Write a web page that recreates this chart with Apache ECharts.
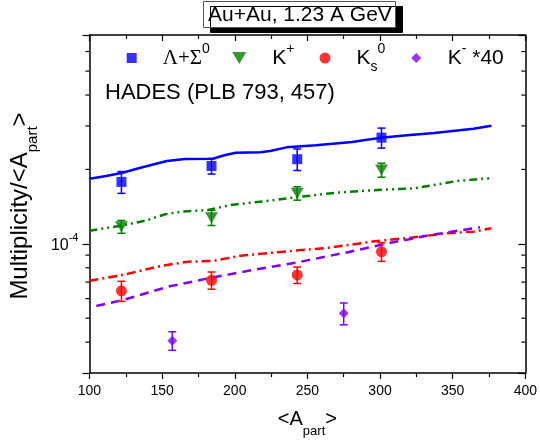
<!DOCTYPE html>
<html><head><meta charset="utf-8">
<script src="https://cdn.jsdelivr.net/npm/echarts@6/dist/echarts.min.js"></script>
<style>html,body{margin:0;padding:0;background:#fff}#c{width:540px;height:447px}</style>
</head><body><div id="c"></div>
<script>
// ---- axes ----
const xMin = 100, xMax = 400, xStep = 50;
const yMin = 3e-5, yMax = 7e-4;
const yMinorTicks = [4e-5, 5e-5, 6e-5, 7e-5, 8e-5, 9e-5, 2e-4, 3e-4, 4e-4, 5e-4, 6e-4];

// ---- measured data (HADES) ----
const dataX = [122, 184, 243, 301];
const lamY = [1.78e-4, 2.065e-4, 2.20e-4, 2.69e-4];
const lamErr = [0.18e-4, 0.15e-4, 0.22e-4, 0.25e-4];
const kpY = [1.173e-4, 1.276e-4, 1.602e-4, 1.99e-4];
const kpErr = [0.07e-4, 0.09e-4, 0.10e-4, 0.13e-4];
const k0sY = [6.45e-5, 7.12e-5, 7.48e-5, 9.29e-5];
const k0sErr = [0.6e-5, 0.57e-5, 0.57e-5, 0.8e-5];
const kmX = [157, 275];
const kmY = [4.055e-5, 5.23e-5];
const kmErr = [0.35e-5, 0.53e-5];

// ---- model curves ----
const lamModelX = [100, 111.5, 122.8, 136.4, 153.3, 165.7, 184.9, 192.8, 200.7, 217.6, 224.4, 235.6, 255.9, 280.8, 289.8, 301.1, 314.7, 337.2, 364.3, 376.7];
const lamModelY = [1.834e-4, 1.881e-4, 1.94e-4, 2.04e-4, 2.163e-4, 2.204e-4, 2.21e-4, 2.281e-4, 2.337e-4, 2.346e-4, 2.374e-4, 2.457e-4, 2.503e-4, 2.582e-4, 2.63e-4, 2.688e-4, 2.738e-4, 2.808e-4, 2.922e-4, 3.006e-4];
const kpModelX = [100, 120.5, 138.6, 152.1, 163.4, 181.5, 197.3, 224.4, 242.4, 269.5, 301.1, 323.7, 353.1, 376.7];
const kpModelY = [1.13e-4, 1.181e-4, 1.241e-4, 1.317e-4, 1.349e-4, 1.371e-4, 1.436e-4, 1.495e-4, 1.543e-4, 1.61e-4, 1.656e-4, 1.677e-4, 1.796e-4, 1.846e-4];
const k0sModelX = [100, 120.5, 149.9, 167.9, 186, 204.1, 233.4, 265, 296.6, 321.4, 346.3, 364.3, 376.7];
const k0sModelY = [7.09e-5, 7.43e-5, 8.15e-5, 8.46e-5, 8.54e-5, 8.95e-5, 9.29e-5, 9.645e-5, 1.024e-4, 1.059e-4, 1.103e-4, 1.12e-4, 1.156e-4];
const kmModelX = [104.7, 122.8, 154.4, 183.8, 215.3, 242.4, 278.6, 305.7, 335, 368.8];
const kmModelY = [5.6e-5, 5.92e-5, 6.71e-5, 7.29e-5, 7.89e-5, 8.39e-5, 9.27e-5, 1.005e-4, 1.086e-4, 1.166e-4];

const F = 'Liberation Sans';
const C_BLUE = '#0000ff', C_GREEN = '#008000', C_RED = '#ff0000', C_PURP = '#8000ff';

const zip = (xs, ys) => xs.map((x, i) => [x, ys[i]]);
const zip3 = (xs, ys, es) => xs.map((x, i) => [x, ys[i], es[i]]);

function errSeries(xs, ys, es, color) {
  return {
    type: 'custom', coordinateSystem: 'cartesian2d', silent: true, z: 4,
    data: zip3(xs, ys, es),
    encode: { x: 0, y: 1 },
    renderItem: function (params, api) {
      const x = api.value(0), y = api.value(1), e = api.value(2);
      const p1 = api.coord([x, y + e]), p2 = api.coord([x, y - e]);
      const w = 4;
      const st = { stroke: color, lineWidth: 1.5 };
      return { type: 'group', children: [
        { type: 'line', shape: { x1: p1[0], y1: p1[1], x2: p2[0], y2: p2[1] }, style: st },
        { type: 'line', shape: { x1: p1[0] - w, y1: p1[1], x2: p1[0] + w, y2: p1[1] }, style: st },
        { type: 'line', shape: { x1: p2[0] - w, y1: p2[1], x2: p2[0] + w, y2: p2[1] }, style: st }
      ]};
    }
  };
}

function lineSeries(xs, ys, color, type) {
  return {
    type: 'line', data: zip(xs, ys), showSymbol: false, symbol: 'none', silent: true, z: 2,
    lineStyle: { color: color, width: 2.5, type: type }
  };
}

const legRich = {
  m: { fontFamily: F, fontSize: 21, lineHeight: 32, color: '#000', padding: [0, 0, 0, 0] },
  mp: { fontFamily: F, fontSize: 21, lineHeight: 32, color: '#000', padding: [0, 0, 0, 21] },
  g: { fontFamily: 'Liberation Serif', fontSize: 21, lineHeight: 32, color: '#000', padding: [0, 0, 0, 21] },
  sup: { fontFamily: F, fontSize: 14, lineHeight: 14, verticalAlign: 'top', color: '#000' },
  sub: { fontFamily: F, fontSize: 14, lineHeight: 8, verticalAlign: 'bottom', color: '#000' }
};

function legend(name, left, icon, w, h, text) {
  return {
    data: [{ name: name, icon: icon }], left: left, top: 42, padding: 0,
    itemWidth: w, itemHeight: h, selectedMode: false,
    formatter: () => text,
    textStyle: { rich: legRich }
  };
}

const chart = echarts.init(document.getElementById('c'), null, { renderer: 'canvas' });
chart.setOption({
  animation: false,
  backgroundColor: '#fff',
  grid: { left: 83, right: 14, top: 35, bottom: 74, containLabel: false },
  title: [{
    text: 'Au+Au, 1.23 A GeV', left: 203, top: 1,
    padding: [2, 4, 1, 5],
    backgroundColor: '#fff', borderColor: '#555', borderWidth: 1,
    shadowColor: '#000', shadowOffsetX: 7, shadowOffsetY: 5, shadowBlur: 0,
    textStyle: { fontFamily: F, fontSize: 21, fontWeight: 'normal', color: '#000', lineHeight: 24 }
  }, {
    text: 'HADES (PLB 793, 457)', left: 105, top: 82, padding: 0,
    textStyle: { fontFamily: F, fontSize: 22, fontWeight: 'normal', color: '#000', lineHeight: 22 }
  }],
  legend: [
    legend('lam', 126.7, 'rect', 10, 10, '{g|Λ+Σ}{sup|0}'),
    legend('kp', 232.3, 'path://M0,0L14,0L7,12Z', 14, 12, '{mp|K}{sup|+}'),
    legend('k0s', 319.5, 'circle', 11, 11, '{mp|K}{sub|s}{sup|0}'),
    legend('km', 411.2, 'path://M5,0L10,5L5,10L0,5Z', 11, 10, '{mp|K}{sup|-}{m| *40}')
  ],
  xAxis: [{
    type: 'value', min: xMin, max: xMax, interval: xStep, position: 'bottom',
    axisLine: { onZero: false, lineStyle: { color: '#000', width: 1.5 } },
    axisTick: { length: 6, lineStyle: { color: '#000', width: 1.2 } },
    minorTick: { show: true, splitNumber: 2, length: 4, lineStyle: { color: '#000', width: 1.2 } },
    axisLabel: { fontFamily: F, fontSize: 14, color: '#000', margin: 11 },
    splitLine: { show: false },
    name: '{a|<A}{s|part}{a|>}', nameLocation: 'middle', nameGap: 27,
    nameTextStyle: { rich: {
      a: { fontFamily: F, fontSize: 20, lineHeight: 38, color: '#000' },
      s: { fontFamily: F, fontSize: 13, lineHeight: 12, verticalAlign: 'bottom', color: '#000' }
    } }
  }, {
    type: 'value', min: xMin, max: xMax, interval: xStep, position: 'top',
    axisLine: { onZero: false, lineStyle: { color: '#000', width: 1.5 } },
    axisTick: { inside: true, length: 6, lineStyle: { color: '#000', width: 1.2 } },
    minorTick: { show: true, splitNumber: 2, length: 4, lineStyle: { color: '#000', width: 1.2 } },
    axisLabel: { show: false }, splitLine: { show: false }
  }],
  yAxis: [{
    type: 'log', logBase: 10, min: yMin, max: yMax, position: 'left',
    axisLine: { show: true, onZero: false, lineStyle: { color: '#000', width: 1.5 } },
    axisTick: { show: true, length: 7, lineStyle: { color: '#000', width: 1.2 } },
    axisLabel: {
      margin: 11,
      formatter: v => (Math.abs(Math.log10(v) + 4) < 1e-6 ? '{b|10}{s|-4}' : ''),
      rich: {
        b: { fontFamily: F, fontSize: 16, lineHeight: 22, color: '#000', padding: [3, 0, 0, 0] },
        s: { fontFamily: F, fontSize: 11, lineHeight: 11, verticalAlign: 'top', color: '#000' }
      }
    },
    splitLine: { show: false },
    name: '{a|Multiplicity/<A}{s|part}{a|>}', nameLocation: 'middle', nameGap: 43,
    nameTextStyle: { padding: [0, 4, 0, 0], rich: {
      a: { fontFamily: F, fontSize: 24, lineHeight: 40, color: '#000' },
      s: { fontFamily: F, fontSize: 15, lineHeight: 12, verticalAlign: 'bottom', color: '#000' }
    } }
  }, {
    type: 'log', logBase: 10, min: yMin, max: yMax, position: 'right',
    axisLine: { show: true, onZero: false, lineStyle: { color: '#000', width: 1.5 } },
    axisTick: { show: true, inside: true, length: 7, lineStyle: { color: '#000', width: 1.2 } },
    axisLabel: { show: false }, splitLine: { show: false }
  }],
  series: [
    // minor log ticks on left (outward) and right (inward) axes
    {
      type: 'custom', coordinateSystem: 'cartesian2d', silent: true, z: 5,
      data: yMinorTicks.map(v => [xMin, v]), encode: { x: 0, y: 1 },
      renderItem: function (params, api) {
        const v = api.value(1);
        const L = api.coord([xMin, v]), R = api.coord([xMax, v]);
        const st = { stroke: '#000', lineWidth: 1.2 };
        return { type: 'group', children: [
          { type: 'line', shape: { x1: L[0] - 4, y1: L[1], x2: L[0], y2: L[1] }, style: st },
          { type: 'line', shape: { x1: R[0] - 4, y1: R[1], x2: R[0], y2: R[1] }, style: st }
        ]};
      }
    },
    lineSeries(lamModelX, lamModelY, C_BLUE, 'solid'),
    lineSeries(kpModelX, kpModelY, C_GREEN, [8, 4, 2, 4, 2, 4]),
    lineSeries(k0sModelX, k0sModelY, C_RED, [9, 4, 2, 4]),
    lineSeries(kmModelX, kmModelY, C_PURP, [9, 6]),
    errSeries(dataX, lamY, lamErr, C_BLUE),
    errSeries(dataX, kpY, kpErr, C_GREEN),
    errSeries(dataX, k0sY, k0sErr, C_RED),
    errSeries(kmX, kmY, kmErr, C_PURP),
    { name: 'lam', type: 'scatter', data: zip(dataX, lamY), symbol: 'rect', symbolSize: 10, itemStyle: { color: C_BLUE }, z: 6 },
    { name: 'kp', type: 'scatter', data: zip(dataX, kpY), symbol: 'path://M0,0L14,0L7,12Z', symbolSize: [13, 11], itemStyle: { color: C_GREEN }, z: 6 },
    { name: 'k0s', type: 'scatter', data: zip(dataX, k0sY), symbol: 'circle', symbolSize: 11, itemStyle: { color: C_RED }, z: 6 },
    { name: 'km', type: 'scatter', data: zip(kmX, kmY), symbol: 'diamond', symbolSize: [10, 10], itemStyle: { color: C_PURP }, z: 6 }
  ]
});
</script>
</body></html>
